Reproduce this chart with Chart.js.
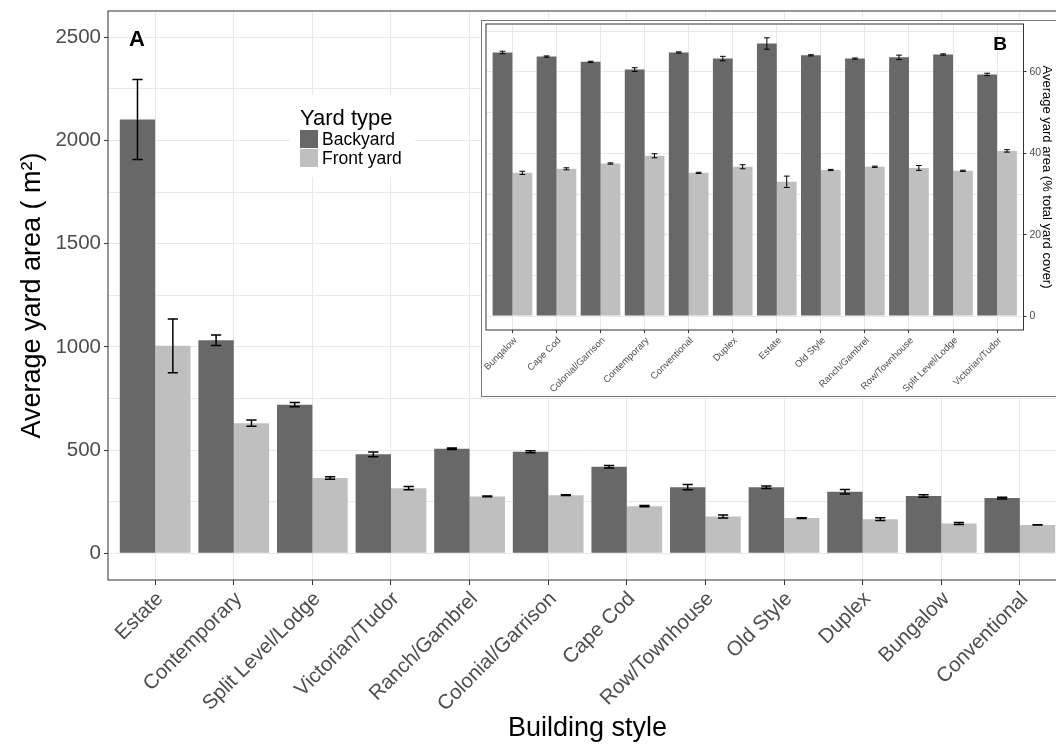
<!DOCTYPE html>
<html>
<head>
<meta charset="utf-8">
<title>Average yard area by building style</title>
<script src="https://cdn.jsdelivr.net/npm/chart.js@4.4.1/dist/chart.umd.min.js"></script>
<style>
  html, body { margin: 0; padding: 0; background: #fff; overflow: hidden; }
  #main-wrap { position: absolute; left: 0; top: 0; width: 1068px; height: 746px; }
  #inset-wrap { position: absolute; left: 481px; top: 20px; width: 580px; height: 375px; border: 1px solid #777; background: #fff; }
</style>
</head>
<body>
<div id="main-wrap"><canvas id="areaChart"></canvas></div>
<div id="inset-wrap"><canvas id="shareChart"></canvas></div>
<script>
// Panel A: mean yard area (m2), styles ordered by backyard size
const styles = ["Estate", "Contemporary", "Split Level/Lodge", "Victorian/Tudor", "Ranch/Gambrel", "Colonial/Garrison",
  "Cape Cod", "Row/Townhouse", "Old Style", "Duplex", "Bungalow", "Conventional"];
const backyardArea = [2102, 1032, 720, 479, 506, 492, 419, 320, 320, 298, 277, 267];
const backyardSE = [194, 25, 10, 11, 4, 5, 6, 13, 6, 11, 6, 4];
const frontArea = [1005, 630, 364, 315, 275, 281, 228, 178, 170, 165, 144, 137];
const frontSE = [130, 15, 6, 8, 2, 2, 3, 7, 2, 7, 5, 1];
const areaTicks = [0, 500, 1000, 1500, 2000, 2500];

// Panel B: share of total yard cover (%), styles in alphabetical order
const insetStyles = ["Bungalow", "Cape Cod", "Colonial/Garrison", "Contemporary", "Conventional", "Duplex", "Estate",
  "Old Style", "Ranch/Gambrel", "Row/Townhouse", "Split Level/Lodge", "Victorian/Tudor"];
const backyardShare = [64.8, 63.8, 62.5, 60.6, 64.8, 63.3, 67.0, 64.1, 63.3, 63.6, 64.3, 59.4];
const backyardShareSE = [0.3, 0.15, 0.15, 0.45, 0.15, 0.55, 1.4, 0.15, 0.15, 0.55, 0.15, 0.3];
const frontShare = [35.2, 36.2, 37.5, 39.4, 35.2, 36.7, 33.0, 35.9, 36.7, 36.4, 35.7, 40.6];
const frontShareSE = [0.4, 0.25, 0.15, 0.5, 0.15, 0.5, 1.4, 0.15, 0.15, 0.6, 0.15, 0.3];
const shareTicks = [0, 20, 40, 60];

const yardTypes = ["Backyard", "Front yard"];
const yardColors = ["#686868", "#bfbfbf"];

const FONT = "'Liberation Sans', Arial, sans-serif";
const AXIS_TEXT = "#4d4d4d";
const GRID = "#e9e9e9";
const BORDER = "#333333";

Chart.defaults.font.family = FONT;
Chart.defaults.animation = false;

function toPoints(values) {
  return values.map((v, i) => ({ x: i, y: v }));
}

// mean +/- SE whiskers on top of each bar
const errorBars = {
  id: "errorBars",
  afterDatasetsDraw(chart, args, opts) {
    const { ctx, scales } = chart;
    const step = Math.abs(scales.x.getPixelForValue(1) - scales.x.getPixelForValue(0));
    const half = (step * opts.capWidth) / 2;
    ctx.save();
    ctx.strokeStyle = "#000";
    ctx.lineWidth = opts.lineWidth;
    chart.data.datasets.forEach((ds, i) => {
      chart.getDatasetMeta(i).data.forEach((bar, j) => {
        const v = ds.data[j].y;
        const e = ds.errors[j];
        const top = scales.y.getPixelForValue(v + e);
        const bottom = scales.y.getPixelForValue(v - e);
        ctx.beginPath();
        ctx.moveTo(bar.x, top);
        ctx.lineTo(bar.x, bottom);
        ctx.moveTo(bar.x - half, top);
        ctx.lineTo(bar.x + half, top);
        ctx.moveTo(bar.x - half, bottom);
        ctx.lineTo(bar.x + half, bottom);
        ctx.stroke();
      });
    });
    ctx.restore();
  },
};

// full rectangle round the plotting panel
const panelBorder = {
  id: "panelBorder",
  afterDatasetsDraw(chart) {
    const { ctx, chartArea: a } = chart;
    ctx.save();
    ctx.strokeStyle = BORDER;
    ctx.lineWidth = 1;
    ctx.strokeRect(a.left, a.top, a.right - a.left, a.bottom - a.top);
    ctx.restore();
  },
};

// panel letter and the yard type key
const panelText = {
  id: "panelText",
  afterDraw(chart, args, opts) {
    const { ctx } = chart;
    ctx.save();
    ctx.fillStyle = "#000";
    ctx.textAlign = "center";
    ctx.textBaseline = "middle";
    ctx.font = "bold " + opts.letterSize + "px " + FONT;
    ctx.fillText(opts.letter, opts.letterX, opts.letterY);

    if (opts.legend) {
      const lg = opts.legend;
      ctx.fillStyle = "#fff";
      ctx.fillRect(lg.x - 10, lg.y - 30, 125, 82);
      ctx.fillStyle = "#000";
      ctx.textAlign = "left";
      ctx.textBaseline = "alphabetic";
      ctx.font = "22px " + FONT;
      ctx.fillText("Yard type", lg.x, lg.y);
      ctx.font = "17.5px " + FONT;
      ctx.textBaseline = "middle";
      yardTypes.forEach((name, i) => {
        const ky = lg.y + 5 + i * 19;
        ctx.fillStyle = yardColors[i];
        ctx.fillRect(lg.x, ky, 18, 18);
        ctx.fillStyle = "#000";
        ctx.fillText(name, lg.x + 22, ky + 10);
      });
    }
    ctx.restore();
  },
};

function gridTicks(values, step) {
  const out = [];
  for (let v = values[0]; v <= values[values.length - 1] + step / 2; v += step / 2) out.push({ value: v });
  return out;
}

function categoryAxis(labels, fontSize, height, tickLen, shift) {
  return {
    type: "linear",
    min: -0.6,
    max: labels.length - 0.4,
    offset: false,
    border: { display: false },
    grid: { offset: false, color: GRID, tickColor: BORDER, tickLength: tickLen },
    afterBuildTicks: (axis) => {
      axis.ticks = labels.map((_, i) => ({ value: i }));
    },
    afterFit: (axis) => {
      axis.height = height;
      axis.paddingLeft = 0;
      axis.paddingRight = 0;
    },
    ticks: {
      autoSkip: false,
      maxRotation: 45,
      minRotation: 45,
      padding: 2,
      labelOffset: shift,
      color: AXIS_TEXT,
      font: { size: fontSize },
      callback: (value) => labels[value],
    },
  };
}

function valueAxis(labelValues, min, max, width, fontSize, tickLen, position) {
  const step = labelValues[1] - labelValues[0];
  return {
    position: position,
    min: min,
    max: max,
    border: { display: false },
    grid: {
      color: GRID,
      tickLength: tickLen,
      tickColor: (c) => (c.tick && labelValues.includes(c.tick.value) ? BORDER : "rgba(0,0,0,0)"),
    },
    afterBuildTicks: (axis) => {
      axis.ticks = gridTicks(labelValues, step);
    },
    afterFit: (axis) => {
      axis.width = width;
      axis.paddingTop = 0;
      axis.paddingBottom = 0;
    },
    ticks: {
      autoSkip: false,
      padding: 3,
      color: AXIS_TEXT,
      font: { size: fontSize },
      callback: (value) => (labelValues.includes(value) ? String(value) : ""),
    },
  };
}

function barDatasets(back, backSE, front, frontSE) {
  return [
    { label: yardTypes[0], data: toPoints(back), errors: backSE, backgroundColor: yardColors[0] },
    { label: yardTypes[1], data: toPoints(front), errors: frontSE, backgroundColor: yardColors[1] },
  ];
}

// Panel A
const areaX = categoryAxis(styles, 20.5, 166, 5, 5);
areaX.title = { display: true, text: "Building style", color: "#000", font: { size: 27 }, padding: { top: 0, bottom: 1 } };
const areaY = valueAxis(areaTicks, -130, 2628, 108, 20.5, 4, "left");
areaY.title = { display: true, text: "Average yard area ( m\u00B2)", color: "#000", font: { size: 27 }, padding: { top: 16, bottom: 0 } };

new Chart(document.getElementById("areaChart"), {
  type: "bar",
  data: { datasets: barDatasets(backyardArea, backyardSE, frontArea, frontSE) },
  options: {
    responsive: true,
    maintainAspectRatio: false,
    layout: { padding: { top: 11, right: 1, left: 0, bottom: 0 } },
    categoryPercentage: 0.9,
    barPercentage: 1.0,
    scales: { x: areaX, y: areaY },
    plugins: {
      legend: { display: false },
      tooltip: { enabled: false },
      errorBars: { capWidth: 0.13, lineWidth: 1.5 },
      panelText: { letter: "A", letterSize: 22, letterX: 137, letterY: 40, legend: { x: 300, y: 125 } },
    },
  },
  plugins: [errorBars, panelBorder, panelText],
});

// Panel B (inset)
const shareX = categoryAxis(insetStyles, 9.5, 66, 3, 3);
const shareY = valueAxis(shareTicks, -3.44, 71.8, 38.5, 10.5, 3, "right");
shareY.title = { display: true, text: "Average yard area (% total yard cover)", color: "#000", font: { size: 13 }, padding: { top: 8, bottom: 0 } };

new Chart(document.getElementById("shareChart"), {
  type: "bar",
  data: { datasets: barDatasets(backyardShare, backyardShareSE, frontShare, frontShareSE) },
  options: {
    responsive: true,
    maintainAspectRatio: false,
    layout: { padding: { top: 3, right: 0, left: 4, bottom: 0 } },
    categoryPercentage: 0.9,
    barPercentage: 1.0,
    scales: { x: shareX, y: shareY },
    plugins: {
      legend: { display: false },
      tooltip: { enabled: false },
      errorBars: { capWidth: 0.13, lineWidth: 1 },
      panelText: { letter: "B", letterSize: 19, letterX: 518, letterY: 24 },
    },
  },
  plugins: [errorBars, panelBorder, panelText],
});
</script>
</body>
</html>
